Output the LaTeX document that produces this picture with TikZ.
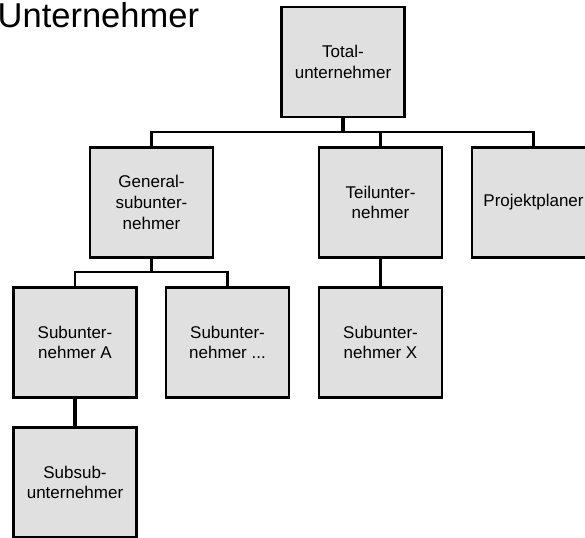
\documentclass[tikz,border=0pt]{standalone}
\usepackage{fontspec}
\setmainfont{Liberation Sans}
\begin{document}
\begin{tikzpicture}[x=1pt,y=-1pt,
  orgbox/.style={draw=black,fill=black!12,line width=2.6pt,minimum width=123pt,minimum height=110pt,align=center,inner sep=0pt,font=\fontsize{17}{20.8}\selectfont},
  conn/.style={line width=2.2pt,line join=miter},
  stem/.style={line width=3.6pt}]
\useasboundingbox (0,0) rectangle (585,537);
\clip (0,0) rectangle (585,537);
\node[anchor=base west,font=\fontsize{34.5}{40}\selectfont,inner sep=0pt] (title) at (-2.5,28) {Unternehmer};
\node[orgbox] (T) at (343,62) {Total-\\unternehmer};
\node[orgbox] (G) at (151.5,202.5) {General-\\subunter-\\nehmer};
\node[orgbox] (TU) at (380.5,202.5) {Teilunter-\\nehmer};
\node[orgbox] (P) at (533.5,202.5) {Projektplaner};
\node[orgbox] (SA) at (75,342.5) {Subunter-\\nehmer A};
\node[orgbox] (SD) at (227.5,342.5) {Subunter-\\nehmer ...};
\node[orgbox] (SX) at (380.5,342.5) {Subunter-\\nehmer X};
\node[orgbox] (SS) at (75,482.5) {Subsub-\\unternehmer};
\coordinate (b1) at (343,132);
\coordinate (b2) at (151.5,272);
\draw[stem] (T.south) -- (b1);
\draw[conn] (G.north) |- (b1);
\draw[conn] (TU.north) |- (b1);
\draw[conn] (P.north) |- (b1);
\draw[stem] (G.south) -- (b2);
\draw[conn] (SA.north) |- (b2);
\draw[conn] (SD.north) |- (b2);
\draw[stem] (TU.south) -- (SX.north);
\draw[stem] (SA.south) -- (SS.north);
\end{tikzpicture}
\end{document}
